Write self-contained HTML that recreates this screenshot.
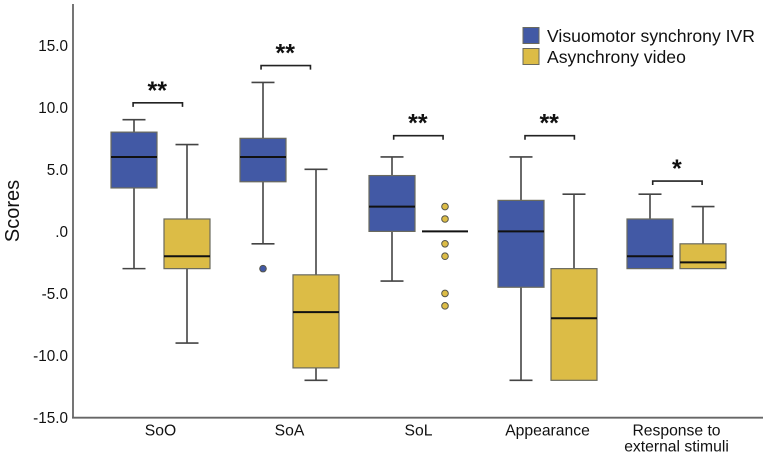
<!DOCTYPE html>
<html lang="en">
<head>
<meta charset="utf-8">
<title>Scores box plot</title>
<style>
html,body{margin:0;padding:0;background:#fff;width:767px;height:458px;overflow:hidden}
svg{display:block;font-family:"Liberation Sans",Arial,sans-serif;fill:#111;filter:blur(.3px)}
</style>
</head>
<body>
<svg id="chart" width="767" height="458" viewBox="0 0 767 458"></svg>
<script>
const categories = [["SoO"], ["SoA"], ["SoL"], ["Appearance"], ["Response to", "external stimuli"]];
const seriesNames = ["Visuomotor synchrony IVR", "Asynchrony video"];
const seriesColors = ["#4259a5", "#dcbc46"];
const yTicks = [15, 10, 5, 0, -5, -10, -15];
const yTickLabels = ["15.0", "10.0", "5.0", ".0", "-5.0", "-10.0", "-15.0"];
// each row: whisker low, Q1, median, Q3, whisker high
const visuomotorStats = [
  [-3, 3.5, 6, 8, 9],
  [-1, 4, 6, 7.5, 12],
  [-4, 0, 2, 4.5, 6],
  [-12, -4.5, 0, 2.5, 6],
  [-3, -3, -2, 1, 3]
];
const asynchronyStats = [
  [-9, -3, -2, 1, 7],
  [-12, -11, -6.5, -3.5, 5],
  [0, 0, 0, 0, 0],
  [-12, -12, -7, -3, 3],
  [-3, -3, -2.5, -1, 2]
];
const visuomotorOutliers = [[], [-3], [], [], []];
const asynchronyOutliers = [[], [], [2, 1, -1, -2, -5, -6], [], []];
const bracketValues = [10.4, 13.4, 7.75, 7.75, 4.1];
const bracketCategoryCenters = [-0.021, 0.971, 1.999, 3.017, 4.007];
const significance = ["**", "**", "**", "**", "*"];

const svg = document.getElementById('chart');
const NS = 'http://www.w3.org/2000/svg';
const yScale = v => 231.4 - 12.41 * v;
const xScale = i => 160.5 + 129 * i;
const groupX = (i, s) => xScale(i) + (s === 0 ? -26.5 : 26.5);
const boxW = 46, capW = 23, bracketW = 49.4;

function make(tag, attrs, parent) {
  const el = document.createElementNS(NS, tag);
  for (const k in attrs) el.setAttribute(k, attrs[k]);
  (parent || svg).appendChild(el);
  return el;
}
function group(parent) { return make('g', {}, parent); }

// Axes
const yAxis = make('line', {x1: 73, x2: 73, y1: 4, y2: 418.5, stroke: '#666', 'stroke-width': 1.8});


const xAxis = make('line', {x1: 72, x2: 763, y1: 417.7, y2: 417.7, stroke: '#666', 'stroke-width': 1.8});



yTicks.forEach((t, i) => {
  const el = make('text', {x: 68, y: yScale(t) + 5.5, 'text-anchor': 'end', 'font-size': 15.3});
  el.textContent = yTickLabels[i];
  
  
});

const yTitle = make('text', {transform: 'translate(19,211) rotate(-90)', 'text-anchor': 'middle', 'font-size': 20});
yTitle.textContent = 'Scores';



categories.forEach((lines, i) => {
  lines.forEach((line, j) => {
    const el = make('text', {x: xScale(i), y: 435.5 + j * 16, 'text-anchor': 'middle', 'font-size': 15.7});
    el.textContent = line;
    
    
  });
});

function drawBox(i, s, st, outliers) {
  const g = group();
  
  
  const cx = groupX(i, s);
  const [lo, q1, med, q3, hi] = st;
  const col = seriesColors[s];
  const wc = '#444';
  if (hi > q3) {
    make('line', {x1: cx, x2: cx, y1: yScale(hi), y2: yScale(q3), stroke: wc, 'stroke-width': 1.6}, g);
    make('line', {x1: cx - capW / 2, x2: cx + capW / 2, y1: yScale(hi), y2: yScale(hi), stroke: wc, 'stroke-width': 1.6}, g);
  }
  if (lo < q1) {
    make('line', {x1: cx, x2: cx, y1: yScale(q1), y2: yScale(lo), stroke: wc, 'stroke-width': 1.6}, g);
    make('line', {x1: cx - capW / 2, x2: cx + capW / 2, y1: yScale(lo), y2: yScale(lo), stroke: wc, 'stroke-width': 1.6}, g);
  }
  if (q3 > q1) {
    make('rect', {x: cx - boxW / 2, y: yScale(q3), width: boxW, height: yScale(q1) - yScale(q3), fill: col, stroke: '#6a6a5e', 'stroke-width': 1.2}, g);
  }
  make('line', {x1: cx - boxW / 2, x2: cx + boxW / 2, y1: yScale(med), y2: yScale(med), stroke: '#111', 'stroke-width': 2}, g);
  outliers.forEach(v => {
    make('circle', {cx: cx, cy: yScale(v), r: 3.3, fill: col, stroke: '#55554a', 'stroke-width': 1}, g);
  });
}
visuomotorStats.forEach((st, i) => drawBox(i, 0, st, visuomotorOutliers[i]));
asynchronyStats.forEach((st, i) => drawBox(i, 1, st, asynchronyOutliers[i]));

bracketValues.forEach((v, i) => {
  const g = group();
  
  
  const y = yScale(v);
  const c = xScale(bracketCategoryCenters[i]);
  const x1 = c - bracketW / 2, x2 = c + bracketW / 2;
  make('path', {d: `M${x1} ${y + 4.5}V${y + 0.5}H${x2}V${y + 4.5}`, fill: 'none', stroke: '#222', 'stroke-width': 1.6}, g);
  const t = make('text', {x: c - 0.5, y: y - 3.5, 'text-anchor': 'middle', 'font-size': 25, 'font-weight': 'bold', fill: '#111'}, g);
  t.textContent = significance[i];
});

seriesNames.forEach((name, s) => {
  const g = group();
  
  
  make('rect', {x: 523, y: 27.5 + s * 21, width: 16, height: 16, fill: seriesColors[s], stroke: '#6a6a5e', 'stroke-width': 1}, g);
  const t = make('text', {x: 547, y: 42 + s * 21, 'font-size': 17.6}, g);
  t.textContent = name;
});
</script>
</body>
</html>
